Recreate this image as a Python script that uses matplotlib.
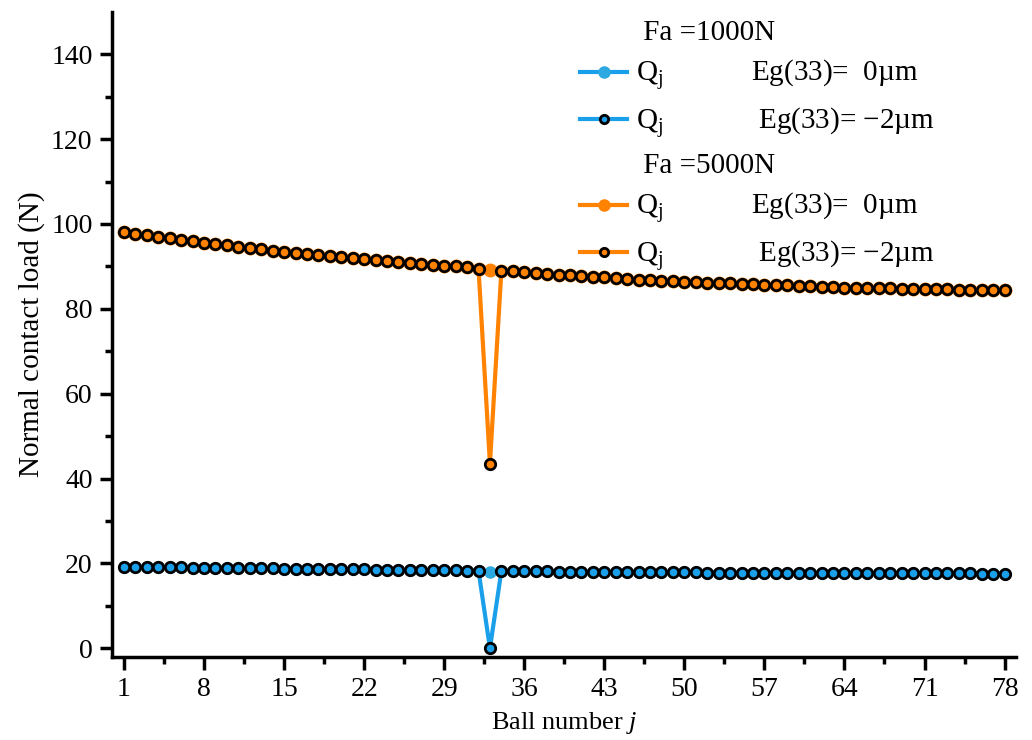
import matplotlib.pyplot as plt
from matplotlib.lines import Line2D
from matplotlib.ticker import FixedLocator

plt.rcParams['font.family'] = ['Liberation Serif', 'DejaVu Serif']
plt.rcParams['mathtext.fontset'] = 'custom'
plt.rcParams['mathtext.rm'] = 'Liberation Serif'
plt.rcParams['mathtext.it'] = 'Liberation Serif:italic'

balls = list(range(1, 79))

# Fa = 5000N, Eg(33) = 0um
q5000_0 = [98.1, 97.7, 97.3, 97.0, 96.6, 96.3, 95.9, 95.6, 95.3, 95.0,
           94.6, 94.3, 94.0, 93.7, 93.4, 93.1, 92.9, 92.6, 92.4, 92.1,
           91.9, 91.7, 91.4, 91.2, 91.0, 90.8, 90.6, 90.4, 90.2, 90.0,
           89.8, 89.5, 89.2, 89.0, 88.8, 88.6, 88.4, 88.2, 88.0, 87.9,
           87.7, 87.5, 87.4, 87.2, 87.1, 86.9, 86.8, 86.6, 86.5, 86.4,
           86.3, 86.2, 86.1, 86.0, 85.9, 85.8, 85.7, 85.6, 85.5, 85.4,
           85.3, 85.2, 85.1, 85.0, 84.95, 84.9, 84.85, 84.8, 84.75, 84.7,
           84.66, 84.62, 84.58, 84.54, 84.5, 84.46, 84.43, 84.4]
# Fa = 5000N, Eg(33) = -2um
q5000_2 = [98.1, 97.7, 97.3, 97.0, 96.6, 96.3, 95.9, 95.6, 95.3, 95.0,
           94.6, 94.3, 94.0, 93.7, 93.4, 93.1, 92.9, 92.6, 92.4, 92.1,
           91.9, 91.7, 91.4, 91.2, 91.0, 90.8, 90.6, 90.4, 90.2, 90.0,
           89.8, 89.5, 43.5, 89.0, 88.8, 88.6, 88.4, 88.2, 88.0, 87.9,
           87.7, 87.5, 87.4, 87.2, 87.1, 86.9, 86.8, 86.6, 86.5, 86.4,
           86.3, 86.2, 86.1, 86.0, 85.9, 85.8, 85.7, 85.6, 85.5, 85.4,
           85.3, 85.2, 85.1, 85.0, 84.95, 84.9, 84.85, 84.8, 84.75, 84.7,
           84.66, 84.62, 84.58, 84.54, 84.5, 84.46, 84.43, 84.4]
# Fa = 1000N, Eg(33) = 0um
q1000_0 = [19.20, 19.17, 19.14, 19.11, 19.08, 19.05, 19.02, 18.99, 18.96, 18.93,
           18.90, 18.87, 18.84, 18.81, 18.78, 18.75, 18.72, 18.69, 18.66, 18.63,
           18.60, 18.57, 18.54, 18.51, 18.48, 18.45, 18.42, 18.39, 18.36, 18.33,
           18.30, 18.27, 18.05, 18.21, 18.18, 18.15, 18.12, 18.09, 18.06, 18.04,
           18.02, 18.00, 17.98, 17.96, 17.94, 17.92, 17.90, 17.89, 17.88, 17.86,
           17.85, 17.84, 17.82, 17.81, 17.80, 17.79, 17.78, 17.77, 17.76, 17.75,
           17.74, 17.73, 17.72, 17.71, 17.70, 17.69, 17.68, 17.67, 17.66, 17.65,
           17.645, 17.64, 17.635, 17.63, 17.62, 17.61, 17.605, 17.60]
# Fa = 1000N, Eg(33) = -2um
q1000_2 = [19.20, 19.17, 19.14, 19.11, 19.08, 19.05, 19.02, 18.99, 18.96, 18.93,
           18.90, 18.87, 18.84, 18.81, 18.78, 18.75, 18.72, 18.69, 18.66, 18.63,
           18.60, 18.57, 18.54, 18.51, 18.48, 18.45, 18.42, 18.39, 18.36, 18.33,
           18.30, 18.27, 0.0, 18.21, 18.18, 18.15, 18.12, 18.09, 18.06, 18.04,
           18.02, 18.00, 17.98, 17.96, 17.94, 17.92, 17.90, 17.89, 17.88, 17.86,
           17.85, 17.84, 17.82, 17.81, 17.80, 17.79, 17.78, 17.77, 17.76, 17.75,
           17.74, 17.73, 17.72, 17.71, 17.70, 17.69, 17.68, 17.67, 17.66, 17.65,
           17.645, 17.64, 17.635, 17.63, 17.62, 17.61, 17.605, 17.60]

blue = '#1AA0EA'
blue_dot = '#2CA9E1'
orange = '#FF8200'

fig = plt.figure(figsize=(10.32, 7.4), dpi=100)
ax = fig.add_axes([0.1085, 0.112, 0.876, 0.872])

ax.plot(balls, q1000_0, color=blue, lw=3, marker='o', ms=8,
        mfc=blue_dot, mec=blue_dot, zorder=2)
ax.plot(balls, q1000_2, color=blue, lw=3, marker='o', ms=7.5,
        mfc=blue, mec='black', mew=2, zorder=3)
ax.plot(balls, q5000_0, color=orange, lw=3, marker='o', ms=9,
        mfc=orange, mec=orange, zorder=2)
ax.plot(balls, q5000_2, color=orange, lw=3, marker='o', ms=7.5,
        mfc=orange, mec='black', mew=2, zorder=3)

ax.set_xlim(-0.05, 79)
ax.set_ylim(-2.1, 150)
ax.xaxis.set_major_locator(FixedLocator(list(range(1, 79, 7))))
ax.xaxis.set_minor_locator(FixedLocator([x + 3.5 for x in range(1, 78, 7)]))
ax.yaxis.set_major_locator(FixedLocator(list(range(0, 141, 20))))
ax.yaxis.set_minor_locator(FixedLocator(list(range(10, 150, 20))))

for s in ['top', 'right']:
    ax.spines[s].set_visible(False)
for s in ['left', 'bottom']:
    ax.spines[s].set_linewidth(2.5)
ax.tick_params(which='major', direction='out', length=9, width=2.5,
               labelsize=20, pad=5)
ax.tick_params(which='minor', direction='out', length=5, width=2.5)

ax.set_xlabel('Ball number $\\mathit{j}$', fontsize=19, labelpad=6)
ax.set_ylabel('Normal contact load (N)', fontsize=21, labelpad=4)

blank = Line2D([], [], linestyle='none')
h1 = Line2D([], [], color=blue, lw=3, marker='o', ms=8, mfc=blue_dot, mec=blue_dot)
h2 = Line2D([], [], color=blue, lw=3, marker='o', ms=6, mfc=blue, mec='black', mew=2)
h3 = Line2D([], [], color=orange, lw=3, marker='o', ms=8, mfc=orange, mec=orange)
h4 = Line2D([], [], color=orange, lw=3, marker='o', ms=6, mfc=orange, mec='black', mew=2)
labels = [' Fa =1000N',
          'Q$_\\mathrm{j}$            Eg(33)=  0\u00b5m',
          'Q$_\\mathrm{j}$             Eg(33)= \u22122\u00b5m',
          ' Fa =5000N',
          'Q$_\\mathrm{j}$            Eg(33)=  0\u00b5m',
          'Q$_\\mathrm{j}$             Eg(33)= \u22122\u00b5m']
ax.legend([blank, h1, h2, blank, h3, h4], labels, loc='upper left',
          bbox_to_anchor=(0.518, 0.988), frameon=False, fontsize=21,
          handlelength=1.6, handletextpad=0.3, labelspacing=0.42,
          borderpad=0, borderaxespad=0)

plt.savefig('out.png', dpi=100)
